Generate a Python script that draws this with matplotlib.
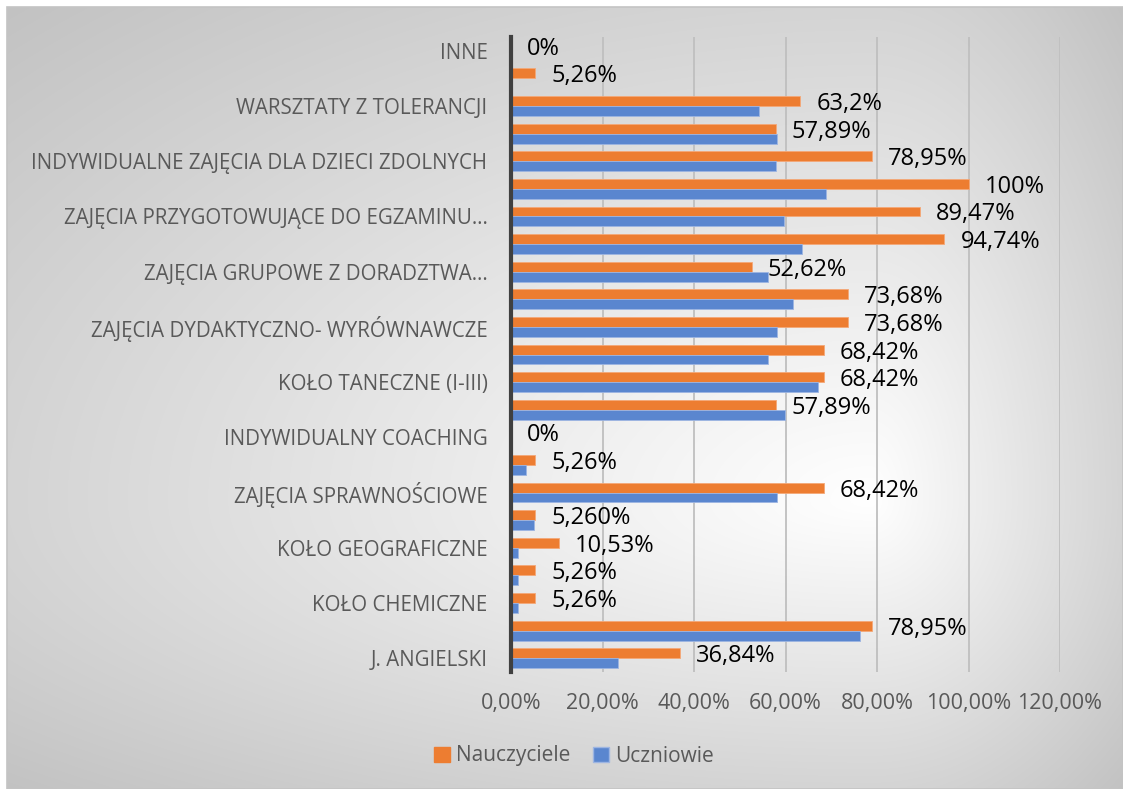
import numpy as np
import matplotlib.pyplot as plt
from matplotlib.patches import Patch, Rectangle

# categories from top to bottom; only every other row carries a name
categories = [
    "INNE", "",
    "WARSZTATY Z TOLERANCJI", "",
    "INDYWIDUALNE ZAJĘCIA DLA DZIECI ZDOLNYCH", "",
    "ZAJĘCIA PRZYGOTOWUJĄCE DO EGZAMINU…", "",
    "ZAJĘCIA GRUPOWE Z DORADZTWA…", "",
    "ZAJĘCIA DYDAKTYCZNO- WYRÓWNAWCZE", "",
    "KOŁO TANECZNE (I-III)", "",
    "INDYWIDUALNY COACHING", "",
    "ZAJĘCIA SPRAWNOŚCIOWE", "",
    "KOŁO GEOGRAFICZNE", "",
    "KOŁO CHEMICZNE", "",
    "J. ANGIELSKI",
]
nauczyciele = [0, 5.26, 63.2, 57.89, 78.95, 100, 89.47, 94.74, 52.62, 73.68, 73.68, 68.42,
               68.42, 57.89, 0, 5.26, 68.42, 5.26, 10.53, 5.26, 5.26, 78.95, 36.84]
uczniowie = [0, 0, 54.1, 58.1, 57.9, 68.9, 59.6, 63.5, 56.1, 61.6, 58.1, 56.1,
             67.0, 59.8, 0, 3.3, 58.1, 5.0, 1.6, 1.6, 1.6, 76.2, 23.4]
value_labels = ["0%", "5,26%", "63,2%", "57,89%", "78,95%", "100%", "89,47%", "94,74%",
                "52,62%", "73,68%", "73,68%", "68,42%", "68,42%", "57,89%", "0%", "5,26%",
                "68,42%", "5,260%", "10,53%", "5,26%", "5,26%", "78,95%", "36,84%"]
x_ticks = [0, 20, 40, 60, 80, 100, 120]
x_tick_labels = ["0,00%", "20,00%", "40,00%", "60,00%", "80,00%", "100,00%", "120,00%"]

ORANGE = "#ED7D31"
BLUE = "#5A86CF"
GREY_TXT = "#595959"

plt.rcParams['font.family'] = ['Open Sans', 'DejaVu Sans']

W, H = 1123, 789
fig = plt.figure(figsize=(W / 100, H / 100), dpi=100)
fig.patch.set_facecolor("white")

# gradient background of the chart area
bg = fig.add_axes([7 / W, 0, (W - 7) / W, (H - 7) / H], zorder=-5)
gw, gh = W - 7, H - 7
cx, cy = 863, 493
xs = np.arange(gw)
ys = np.arange(gh)
tx = np.where(xs >= cx, (xs - cx) / (gw - cx), (cx - xs) / cx)
ty = np.where(ys >= cy, (ys - cy) / (gh - cy), (cy - ys) / cy)
r = np.sqrt(tx[None, :] ** 2 + ty[:, None] ** 2)
shade = (255 - 43 * r) / 255.0
shade = np.clip(shade, 0, 1)
bg.imshow(np.dstack([shade, shade, shade]), aspect="auto", extent=[0, 1, 0, 1])
bg.set_axis_off()
fig.patches.append(Rectangle((6.5 / W, 0), (W - 6.5) / W, (H - 7) / H, transform=fig.transFigure,
                             fill=False, edgecolor="#c4c4c4", linewidth=1.2))

ax = fig.add_axes([511 / W, 1 - 672 / H, (1060 - 511) / W, (672 - 37) / H])
ax.set_facecolor("none")

y = np.arange(len(categories))
h = 0.36
ax.barh(y - h / 2, nauczyciele, height=h, color=ORANGE, edgecolor="#f4a878", linewidth=0.6, zorder=3)
ax.barh(y + h / 2, uczniowie, height=h, color=BLUE, edgecolor="#9db5e2", linewidth=0.6, zorder=3)

for yi, v, lab in zip(y, nauczyciele, value_labels):
    ax.annotate(lab, xy=(v, yi - h / 2), xytext=(16, -3), textcoords="offset pixels",
                ha="left", va="center", fontsize=17, color="black", zorder=4)

ax.set_xlim(0, 120)
ax.set_ylim(len(categories) - 0.5, -0.5)
ax.set_xticks(x_ticks)
ax.set_xticklabels(x_tick_labels, fontsize=15.5, color=GREY_TXT)
ax.set_yticks(y)
ax.set_yticklabels(categories, fontsize=14.8, color=GREY_TXT)
ax.tick_params(axis="both", length=0)
ax.tick_params(axis="y", pad=17)
ax.tick_params(axis="x", pad=15)
ax.grid(axis="x", color="#bfbfbf", linewidth=1.3, zorder=0)
for s in ["top", "right", "bottom"]:
    ax.spines[s].set_visible(False)
ax.spines["left"].set_color("#404040")
ax.spines["left"].set_linewidth(3)
ax.spines["left"].set_zorder(5)

handles = [Patch(facecolor=ORANGE, edgecolor=ORANGE), Patch(facecolor=BLUE, edgecolor="#9db5e2")]
fig.legend(handles, ["Nauczyciele", "Uczniowie"], loc="center", bbox_to_anchor=(574 / W, 1 - 756 / H),
           ncol=2, frameon=False, fontsize=15, labelcolor=GREY_TXT, handlelength=0.75, handleheight=0.75,
           handletextpad=0.3, columnspacing=1.1)

fig.savefig("out.png", dpi=100)
